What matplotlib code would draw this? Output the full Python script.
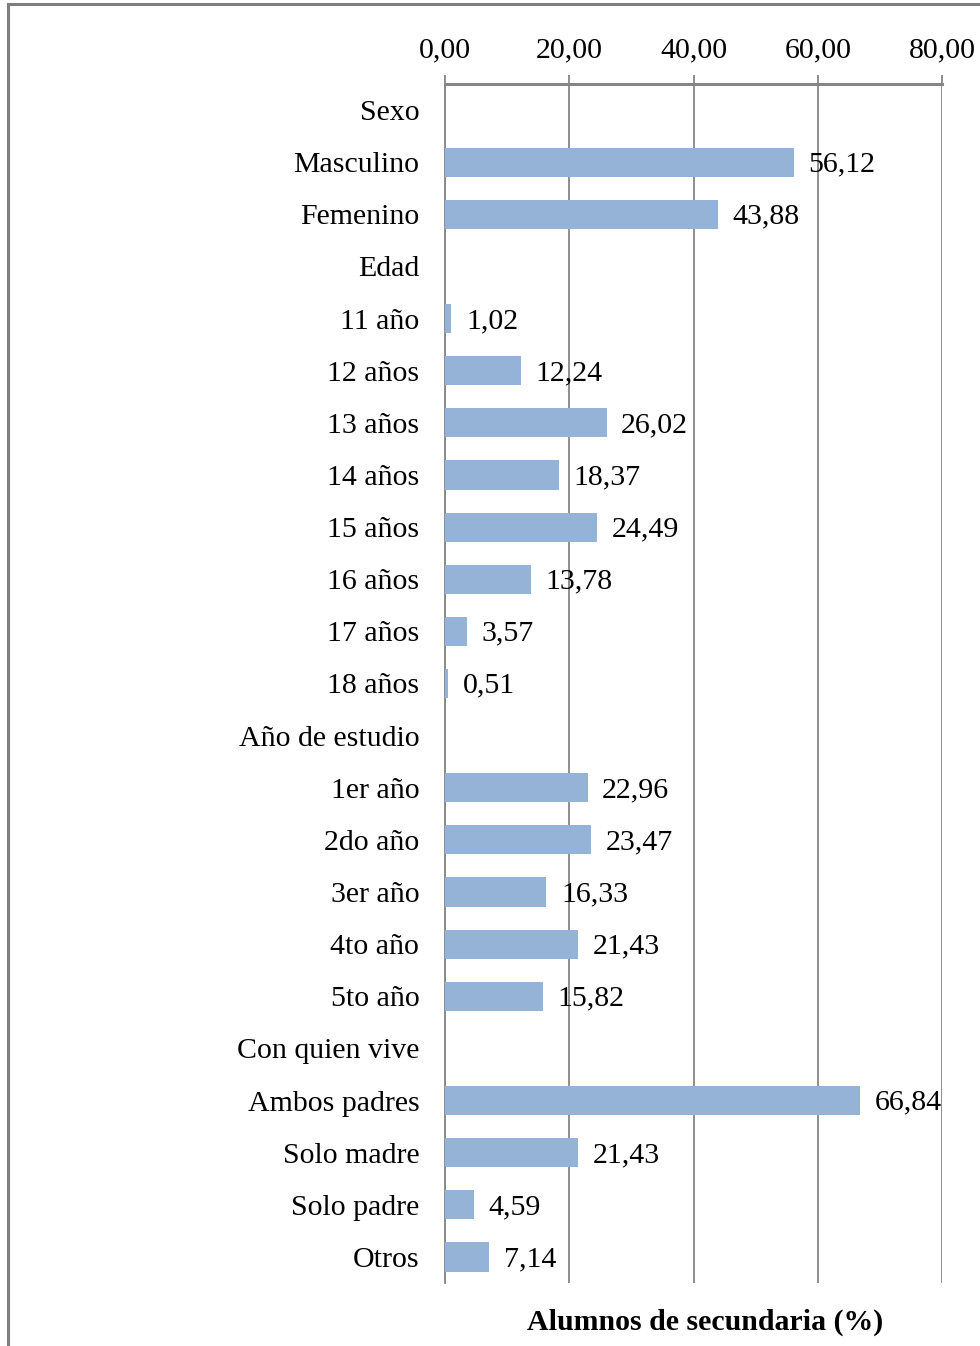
import matplotlib
matplotlib.use("Agg")
import matplotlib.pyplot as plt
from matplotlib.patches import Rectangle

plt.rcParams['font.family'] = ['Liberation Serif', 'DejaVu Serif']

categories = ["Sexo", "Masculino", "Femenino", "Edad", "11 año", "12 años", "13 años",
              "14 años", "15 años", "16 años", "17 años", "18 años", "Año de estudio",
              "1er año", "2do año", "3er año", "4to año", "5to año", "Con quien vive",
              "Ambos padres", "Solo madre", "Solo padre", "Otros"]
values = [None, 56.12, 43.88, None, 1.02, 12.24, 26.02, 18.37, 24.49, 13.78, 3.57, 0.51,
          None, 22.96, 23.47, 16.33, 21.43, 15.82, None, 66.84, 21.43, 4.59, 7.14]
xticks = [0, 20, 40, 60, 80]
xlabel = "Alumnos de secundaria (%)"

FS = 21.5

def fmt(v):
    return f"{v:.2f}".replace(".", ",")

fig = plt.figure(figsize=(9.8, 13.46), dpi=100)
ax = fig.add_axes([445/980, 1 - 1283/1346, (942-445)/980, (1283-84)/1346])

ypos = list(range(len(categories)))
bar_y = [y for y, v in zip(ypos, values) if v is not None]
bar_v = [v for v in values if v is not None]
ax.barh(bar_y, bar_v, height=0.56, color="#95B3D7", zorder=3)
for y, v in zip(bar_y, bar_v):
    ax.annotate(fmt(v), xy=(v, y), xytext=(10.5, 0.5), textcoords="offset points",
                va="center_baseline", ha="left", fontsize=FS, color="black", zorder=4)

ax.set_xlim(0, 80)
ax.set_ylim(len(categories) - 0.5, -0.5)
ax.set_yticks(ypos)
ax.set_yticklabels(categories, fontsize=FS)
ax.tick_params(axis="y", length=0, pad=18.5)
ax.xaxis.tick_top()
ax.set_xticks(xticks)
ax.set_xticklabels([fmt(t) for t in xticks], fontsize=FS)
ax.tick_params(axis="x", length=6.5, width=1.3, color="#868686", pad=8.5)
ax.grid(axis="x", color="#868686", linewidth=1.3, zorder=0)
for s in ["bottom", "right"]:
    ax.spines[s].set_visible(False)
ax.spines["top"].set_color("#868686")
ax.spines["top"].set_linewidth(2.2)
ax.spines["left"].set_color("#868686")
ax.spines["left"].set_linewidth(1.3)

fig.text(705/980, 1 - 1322/1346, xlabel, fontsize=FS, fontweight="bold",
         ha="center", va="center")

# figure frame
fig.patches.append(Rectangle((8/980, -0.1), 1.2, 1 - 4/1346 + 0.1, transform=fig.transFigure,
                             fill=False, edgecolor="#7f7f7f", linewidth=2.2))

fig.savefig("out.png", dpi=100)
